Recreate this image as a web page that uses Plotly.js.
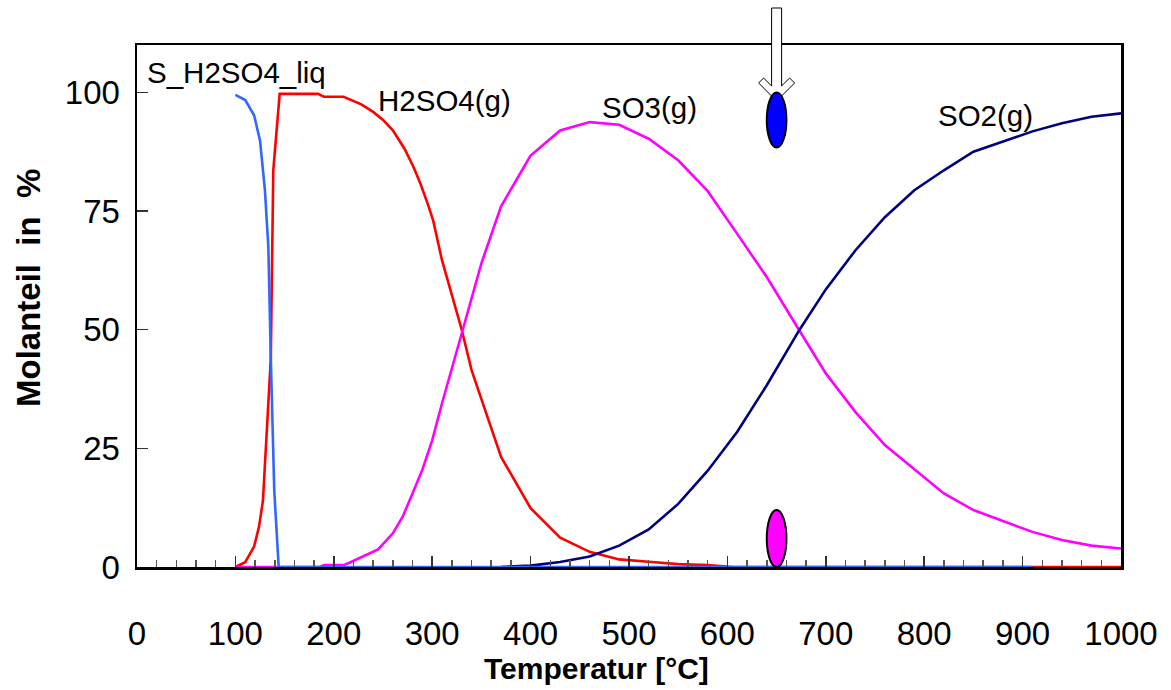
<!DOCTYPE html>
<html>
<head>
<meta charset="utf-8">
<script src="https://cdn.plot.ly/plotly-3.0.1.min.js"></script>
<style>html,body{margin:0;padding:0;background:#fff;}#chart{width:1171px;height:690px;}</style>
</head>
<body>
<div id="chart"></div>
<script>
// ---- data ----
const T_liq   = [100, 110, 119, 125, 130, 133.5, 136, 139.5, 144, 910];
const Y_liq   = [99.5, 98.4, 95.2, 89.9, 79.4, 67.4, 44, 16, 0, 0];

const T_h2so4 = [100, 110, 119, 124, 128, 136, 138.5, 145, 184, 190, 210, 217, 228, 240, 250, 260, 272, 281, 288, 296, 301, 310, 330, 340, 370, 400, 430, 460, 490, 520, 550, 580, 606, 1000];
const Y_h2so4 = [0, 1, 4.3, 8.5, 14, 44, 83.6, 99.7, 99.7, 99.1, 99.1, 98.5, 97.5, 95.9, 94.2, 92, 88.1, 84.3, 80.8, 76.2, 73, 64.6, 50, 41.5, 23.2, 12.4, 6.2, 3.2, 1.6, 1.1, 0.6, 0.4, 0, 0];

const T_so3   = [100, 186, 190, 210, 218, 233, 245, 260, 270, 280, 290, 300, 310, 330, 350, 370, 400, 430, 460, 490, 520, 550, 580, 610, 640, 673, 700, 730, 760, 790, 820, 850, 880, 910, 940, 970, 1000];
const Y_so3   = [0, 0, 0.4, 0.4, 1.1, 2.5, 3.7, 7.1, 10.6, 15.5, 20.5, 26.7, 34.5, 49.2, 64, 76, 86.7, 92, 93.75, 93.2, 90.25, 85.7, 79.2, 70.2, 61.1, 49.9, 40.8, 32.7, 25.7, 20.6, 15.5, 12, 9.75, 7.4, 5.7, 4.5, 3.9];

const T_so2   = [370, 400, 430, 460, 490, 520, 550, 580, 610, 640, 673, 700, 730, 760, 790, 820, 850, 880, 910, 940, 970, 1000];
const Y_so2   = [0, 0.3, 1.05, 2.2, 4.5, 7.9, 13.3, 20.3, 28.5, 38.3, 49.9, 58.5, 66.7, 73.7, 79.4, 83.6, 87.5, 89.7, 91.8, 93.5, 94.9, 95.6];

const seriesNames = ["H2SO4(g)", "SO3(g)", "SO2(g)", "S_H2SO4_liq"];
const xTickVals = [0, 100, 200, 300, 400, 500, 600, 700, 800, 900, 1000];
const yTickVals = [0, 25, 50, 75, 100];
const markerT = 650;          // temperature of the marked point (arrow + ellipses)

// ---- layout helpers ----
const L = 137, R = 50, T = 45, B = 123, W = 1171, H = 690;
const pw = W - L - R, ph = H - T - B;
const xmax = 1000, ymax = 110;
const px2paperX = px => (px - L) / pw;
const py2paperY = py => (H - B - py) / ph;
const cx = L + markerT / xmax * pw;

const arrowPts = [[-5, 8], [-5, 86], [-13, 78], [-18, 83], [0, 101], [18, 83], [13, 78], [5, 86], [5, 8]];
const arrowPath = 'M ' + arrowPts.map(p => px2paperX(cx + p[0]).toFixed(5) + ' ' + py2paperY(p[1]).toFixed(5)).join(' L ') + ' Z';

const lw = 2.6;
const traces = [
  {x: T_h2so4, y: Y_h2so4, name: seriesNames[0], mode: 'lines', line: {color: '#FF0000', width: lw}},
  {x: T_so3, y: Y_so3, name: seriesNames[1], mode: 'lines', line: {color: '#FF00FF', width: lw}},
  {x: T_so2, y: Y_so2, name: seriesNames[2], mode: 'lines', line: {color: '#000080', width: lw}},
  {x: T_liq, y: Y_liq, name: seriesNames[3], mode: 'lines', line: {color: '#3366FF', width: lw}}
];

const font = 'Liberation Sans, Arial, sans-serif';
const layout = {
  width: W, height: H,
  margin: {l: L, r: R, t: T, b: B, pad: 0},
  paper_bgcolor: '#fff', plot_bgcolor: '#fff',
  showlegend: false,
  font: {family: font, color: '#000', size: 29.5},
  xaxis: {
    range: [0, xmax], tickvals: xTickVals, ticktext: xTickVals.map(String),
    ticks: 'inside', ticklen: 11, tickwidth: 1.5, tickcolor: '#333',
    minor: {dtick: 20, ticks: 'inside', ticklen: 7, tickwidth: 1.5, tickcolor: '#555'},
    showgrid: false, zeroline: false, showline: true, linecolor: '#000', linewidth: 2.5, mirror: true,
    tickfont: {size: 33, family: font}, ticklabelstandoff: 36
  },
  yaxis: {
    range: [0, ymax], tickvals: yTickVals, ticktext: yTickVals.map(String),
    ticks: 'inside', ticklen: 11, tickwidth: 1.5, tickcolor: '#333',
    showgrid: false, zeroline: false, showline: true, linecolor: '#000', linewidth: 2.5, mirror: true,
    tickfont: {size: 33, family: font}, ticklabelstandoff: 8
  },
  annotations: [
    {xref: 'x', yref: 'y', x: 8, y: 104.2, text: 'S_H2SO4_liq', showarrow: false, xanchor: 'left', yanchor: 'middle', font: {size: 29.5}},
    {xref: 'x', yref: 'y', x: 243, y: 98.3, text: 'H2SO4(g)', showarrow: false, xanchor: 'left', yanchor: 'middle', font: {size: 29.5}},
    {xref: 'x', yref: 'y', x: 470.5, y: 96.8, text: 'SO3(g)', showarrow: false, xanchor: 'left', yanchor: 'middle', font: {size: 29.5}},
    {xref: 'x', yref: 'y', x: 812, y: 95.2, text: 'SO2(g)', showarrow: false, xanchor: 'left', yanchor: 'middle', font: {size: 29.5}},
    {xref: 'paper', yref: 'paper', x: px2paperX(596), y: py2paperY(668), text: '<b>Temperatur [°C]</b>', showarrow: false, xanchor: 'center', yanchor: 'middle', font: {size: 30}},
    {xref: 'paper', yref: 'paper', x: px2paperX(28), y: py2paperY(288), text: '<b>Molanteil&nbsp; in&nbsp; %</b>', showarrow: false, textangle: -90, xanchor: 'center', yanchor: 'middle', font: {size: 33}}
  ],
  shapes: [
    {type: 'path', xref: 'paper', yref: 'paper', path: arrowPath, fillcolor: '#fff', line: {color: '#000', width: 1}, layer: 'above'},
    {type: 'circle', xref: 'x', yref: 'y', x0: markerT - 10, x1: markerT + 10, y0: 88.4, y1: 100, fillcolor: '#0000FF', line: {color: '#000', width: 2}, layer: 'above'},
    {type: 'circle', xref: 'x', yref: 'y', x0: markerT - 10, x1: markerT + 10, y0: 0, y1: 12, fillcolor: '#FF00FF', line: {color: '#000', width: 2}, layer: 'above'}
  ]
};

Plotly.newPlot('chart', traces, layout, {displayModeBar: false, staticPlot: true});
</script>
</body>
</html>
